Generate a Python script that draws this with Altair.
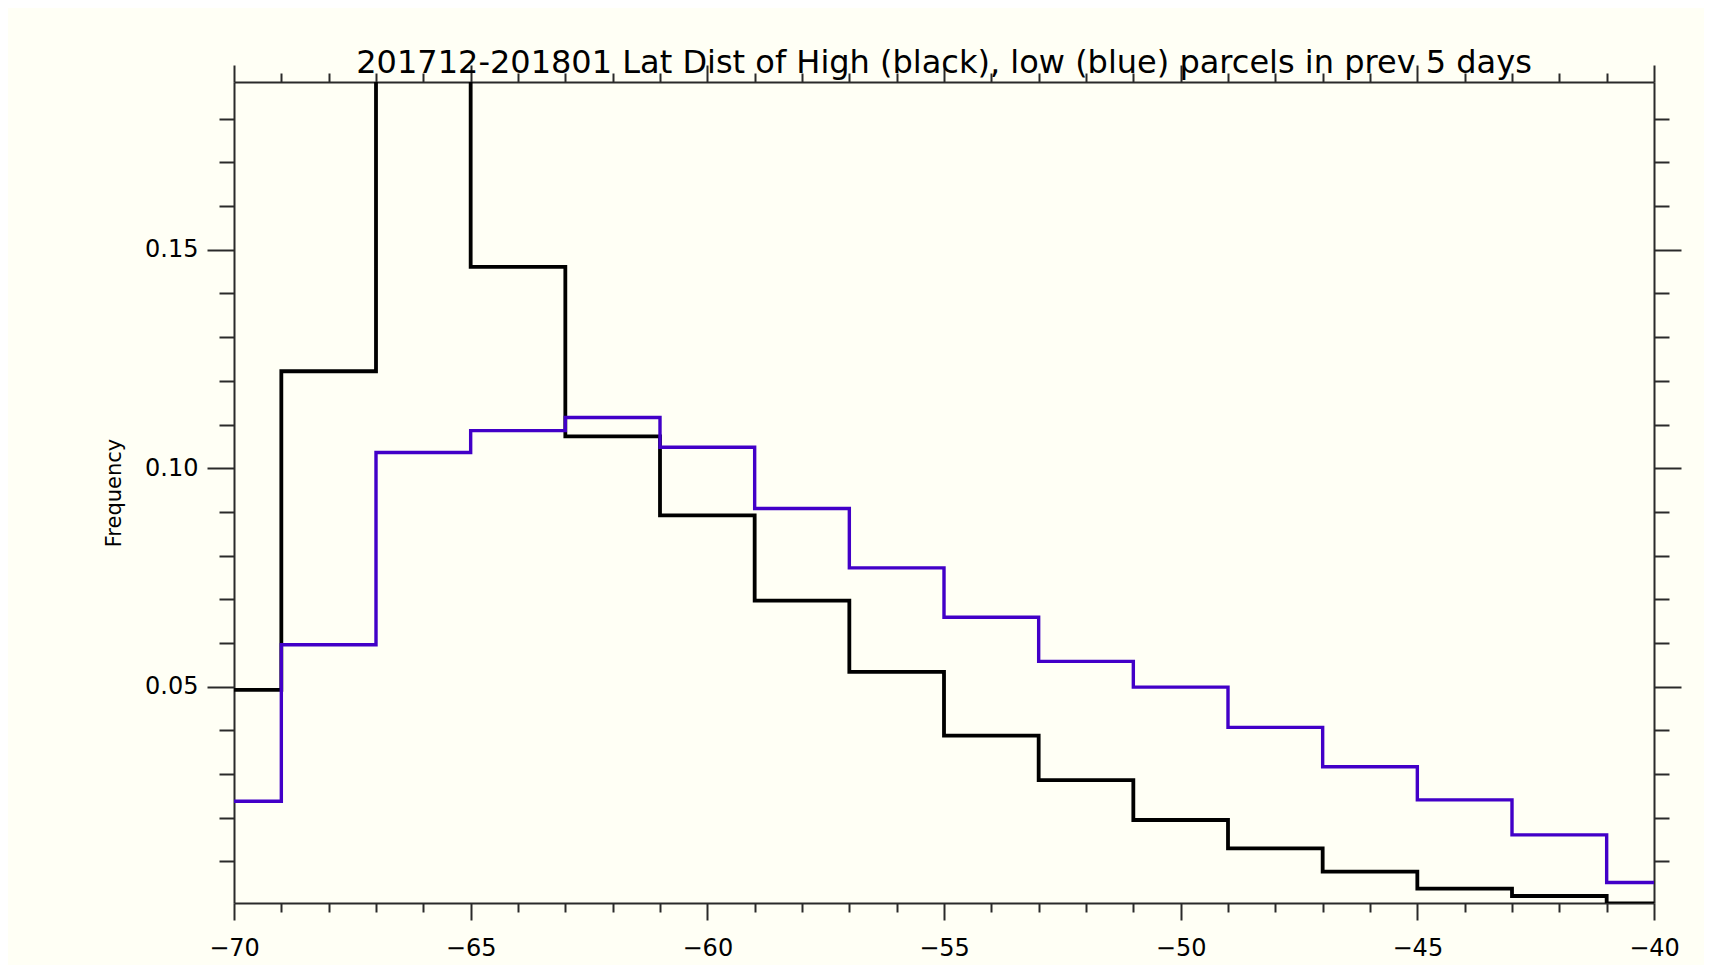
import altair as alt
import pandas as pd

# Bin centres (2-degree latitude bins)
lat_centers = [-70, -68, -66, -64, -62, -60, -58, -56, -54, -52, -50, -48, -46, -44, -42, -40]
# High parcels (black); the -66 bin runs off the top of the plot
freq_high = [0.0493, 0.1222, 0.2200, 0.1461, 0.1073, 0.0892, 0.0697, 0.0534, 0.0388,
             0.0286, 0.0195, 0.0130, 0.0077, 0.0038, 0.0021, 0.0004]
# Low parcels (blue)
freq_low = [0.0238, 0.0596, 0.1036, 0.1086, 0.1116, 0.1048, 0.0908, 0.0772, 0.0659,
            0.0558, 0.0499, 0.0407, 0.0317, 0.0241, 0.0161, 0.0052]

x_ticks = [-70, -69, -68, -67, -66, -65, -64, -63, -62, -61, -60, -59, -58, -57, -56, -55,
           -54, -53, -52, -51, -50, -49, -48, -47, -46, -45, -44, -43, -42, -41, -40]
y_ticks = [0.01, 0.02, 0.03, 0.04, 0.05, 0.06, 0.07, 0.08, 0.09, 0.10, 0.11, 0.12, 0.13,
           0.14, 0.15, 0.16, 0.17, 0.18]

title_text = "201712-201801 Lat Dist of High (black), low (blue) parcels in prev 5 days"

df_high = pd.DataFrame({"lat": lat_centers, "freq": freq_high})
df_low = pd.DataFrame({"lat": lat_centers, "freq": freq_low})

FONT = "DejaVu Sans"
AX = "#2a2a2a"
BG = "#FFFFF5"

xscale = alt.Scale(domain=[-70, -40], nice=False, zero=False)
yscale = alt.Scale(domain=[0.0005, 0.1884], nice=False, zero=False)

x_major = "datum.value % 5 === 0"
y_major = "abs(round(datum.value * 100)) % 5 === 0"

common = dict(
    domainColor=AX, domainWidth=2, tickColor=AX, tickWidth=2, grid=False,
    labelFont=FONT, labelFontSize=24, labelColor="black",
    titleFont=FONT, titleFontSize=21, titleFontWeight="normal", titleColor="black",
    labelOverlap=False, labelFlush=False,
)

x_bottom = alt.Axis(
    orient="bottom", values=x_ticks,
    tickSize={"condition": {"test": x_major, "value": 17}, "value": 9},
    labelExpr=f"{x_major} ? datum.label : ''",
    labelPadding=16, title="Latitude", titlePadding=3, **common,
)
x_top = alt.Axis(
    orient="top", values=x_ticks,
    tickSize={"condition": {"test": x_major, "value": 17}, "value": 9},
    labels=False, title=None, **common,
)
y_left = alt.Axis(
    orient="left", values=y_ticks,
    tickSize={"condition": {"test": y_major, "value": 27}, "value": 15},
    labelExpr=f"{y_major} ? format(datum.value, '.2f') : ''",
    labelPadding=9, title="Frequency", titlePadding=20, **common,
)
y_right = alt.Axis(
    orient="right", values=y_ticks,
    tickSize={"condition": {"test": y_major, "value": 27}, "value": 15},
    labels=False, title=None, **common,
)

black = alt.Chart(df_high).mark_line(
    interpolate="step", color="black", strokeWidth=3.8, clip=True
).encode(
    x=alt.X("lat:Q", scale=xscale, axis=x_bottom),
    y=alt.Y("freq:Q", scale=yscale, axis=y_left),
)

blue = alt.Chart(df_low).mark_line(
    interpolate="step", color="#4200C8", strokeWidth=3.4, clip=True
).encode(
    x=alt.X("lat:Q", scale=xscale, axis=x_top),
    y=alt.Y("freq:Q", scale=yscale, axis=y_right),
)

chart = alt.layer(black, blue).resolve_axis(
    x="independent", y="independent"
).properties(
    width=1420,
    height=821,
    autosize="none",
    padding={"left": 226, "top": 74, "right": 50, "bottom": 62},
    background=BG,
    title=alt.Title(
        title_text, font=FONT, fontSize=32, fontWeight="normal", color="black",
        anchor="middle", baseline="alphabetic", offset=-41,
    ),
).configure_view(stroke=None)

chart.save("out.html", embed_options={"renderer": "svg", "actions": False})
